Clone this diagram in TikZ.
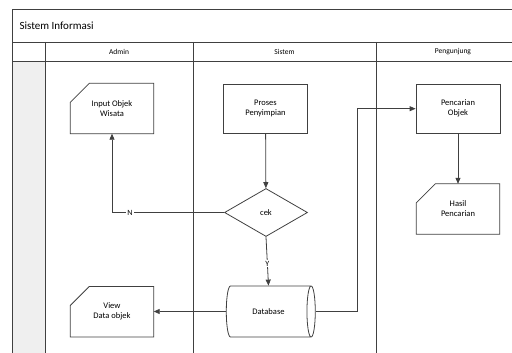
\documentclass[tikz,border=0pt]{standalone}
\usepackage{fontspec}
\setmainfont{Carlito}
\usetikzlibrary{arrows.meta,shapes.geometric}
\usetikzlibrary{positioning}
\definecolor{linegray}{HTML}{404040}
\definecolor{lanegray}{HTML}{EFEFEF}
\tikzset{proc node/.style={rectangle,draw=linegray,line width=0.8pt,minimum width=84pt,minimum height=49pt,inner sep=0pt,align=center,font=\fontsize{8.5}{10}\selectfont},
            manual node/.style={rectangle,minimum width=83pt,minimum height=50pt,inner sep=0pt,align=center,font=\fontsize{8.5}{10}\selectfont},
            decision node/.style={diamond,draw=linegray,line width=0.8pt,minimum width=83pt,minimum height=48pt,inner sep=0pt,font=\fontsize{8.5}{10}\selectfont},
            store node/.style={cylinder,draw=linegray,line width=0.8pt,minimum width=51pt,minimum height=89pt,aspect=1.4,inner sep=0pt,font=\fontsize{8.5}{10}\selectfont},
            flow/.style={draw=linegray,line width=0.8pt,-{Triangle[length=6pt,width=5pt]}},
            yn label/.style={fill=white,inner sep=1pt,font=\fontsize{8}{9}\selectfont},
            frame/.style={draw=linegray,line width=0.8pt},
            lane title/.style={font=\fontsize{7.5}{9}\selectfont},
            }
\newcommand{\manualin}[1]{\draw[linegray,line width=0.8pt] (#1.south west) -- (#1.south east) -- (#1.north east) -- ([xshift=19pt]#1.north west) -- ([yshift=-19pt]#1.north west) -- cycle;}

\begin{document}
\begin{tikzpicture}[x=1pt,y=-1pt]
    \useasboundingbox (0,0) rectangle (512,353);
    \clip (0,0) rectangle (512,353);

    % swimlanes
    \fill[lanegray] (12,61) rectangle (45,360);
    \draw[frame] (12,360) -- (12,9) -- (530,9) -- (530,360);
    \draw[frame] (12,42) -- (530,42);
    \draw[frame] (12,61) -- (530,61);
    \draw[frame] (45,42) -- (45,360);
    \draw[frame] (193,42) -- (193,360);
    \draw[frame] (376,42) -- (376,360);
    \node[anchor=west,font=\fontsize{11}{13}\selectfont] (judul) at (16,26) {Sistem Informasi};
    \node[lane title] (admin) at (119,51.5) {Admin};
    \node[lane title] (sistem) at (284.5,51.5) {Sistem};
    \node[lane title] (pengunjung) at (453,51.5) {Pengunjung};

    % nodes
    \node[manual node] (input) at (112,108.5) {Input Objek\\Wisata};
    \node[proc node] (proses) at (265.5,108.7) {Proses\\Penyimpian};
    \node[decision node] (cek) at (266,212.5) {cek};
    \node[store node] (db) at (268.5,311.5) {Database};
    \node[manual node] (view) at (112,311.7) {View\\Data objek};
    \node[proc node] (cari) at (458,108.7) {Pencarian\\Objek};
    \node[manual node] (hasil) at (458,209) {Hasil\\Pencarian};
    \manualin{input}
    \manualin{view}
    \manualin{hasil}
    \coordinate (belok) at (357,108.7);

    % connectors
    \draw[flow] (proses) -- (cek);
    \draw[flow] (cek.west) -| node[yn label,pos=0.42] {N} (input.south);
    \draw[flow] (cek.south) -- node[yn label,pos=0.55] {Y} (db.north);
    \draw[flow] (db.west) -- (db.west -| view.east);
    \draw[flow] (db.east) -| (belok) -- (cari.west);
    \draw[flow] (cari) -- (hasil);
  \end{tikzpicture}
\end{document}
